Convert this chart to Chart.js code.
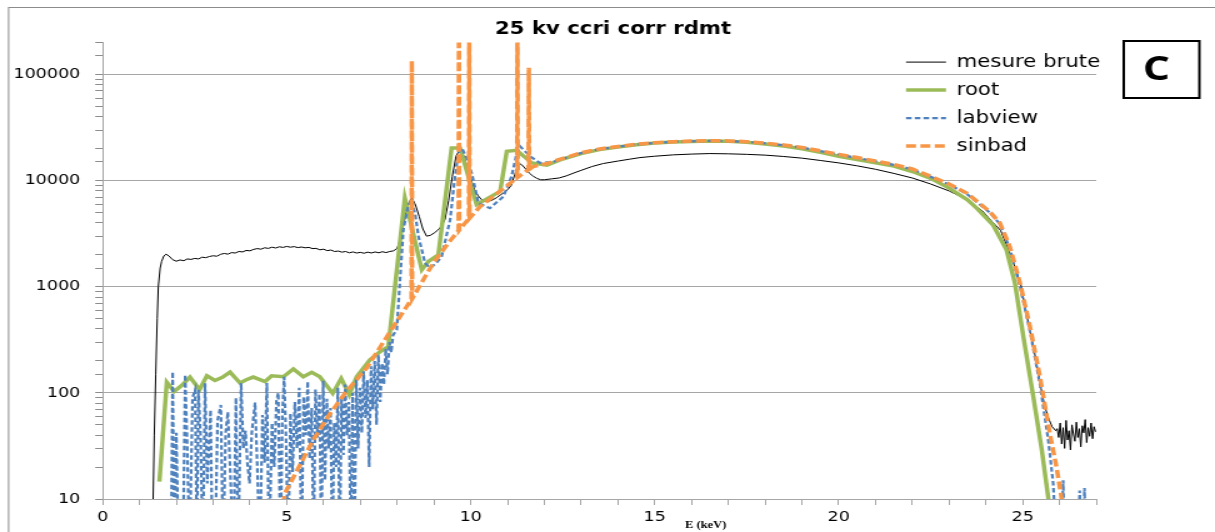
<!DOCTYPE html>
<html>
<head>
<meta charset="utf-8">
<title>25 kv ccri corr rdmt</title>
<script src="https://cdn.jsdelivr.net/npm/chart.js@4.4.1/dist/chart.umd.min.js"></script>
<style>
  html, body { margin: 0; padding: 0; background: #fff; overflow: hidden; }
</style>
</head>
<body>
<!-- the source picture is stretched sideways: draw 972 wide, show it 1215 wide -->
<canvas id="chart" width="972" height="532" style="display:block;width:1215px;height:532px"></canvas>
<script>
// energies in keV and counts

const bruteE = [1.37, 1.40, 1.44, 1.48, 1.51, 1.56, 1.60, 1.66, 1.72, 1.80, 1.90, 2.00,
  2.1, 2.2, 2.3, 2.4, 2.5, 2.6, 2.7, 2.8, 2.9, 3.0,
  3.1, 3.2, 3.3, 3.4, 3.5, 3.6, 3.7, 3.8, 3.9, 4.0,
  4.1, 4.2, 4.3, 4.4, 4.5, 4.6, 4.7, 4.8, 4.9, 5.0,
  5.1, 5.2, 5.3, 5.4, 5.5, 5.6, 5.7, 5.8, 5.9, 6.0,
  6.1, 6.2, 6.3, 6.4, 6.5, 6.6, 6.7, 6.8, 6.9, 7.0,
  7.1, 7.2, 7.3, 7.4, 7.5, 7.6, 7.7, 7.8, 7.9, 8.0,
  8.1, 8.2, 8.3, 8.4, 8.5, 8.6, 8.7, 8.8, 8.9, 9.0,
  9.1, 9.2, 9.3, 9.4, 9.5, 9.6, 9.7, 9.8, 9.9, 10.0,
  10.1, 10.2, 10.3, 10.4, 10.5, 10.6, 10.7, 10.8, 10.9, 11.0,
  11.1, 11.2, 11.3, 11.4, 11.5, 11.6, 11.7, 11.8, 11.9, 12.0,
  12.2, 12.4, 12.6, 12.8, 13.0, 13.3, 13.6, 14.0, 14.3, 14.6,
  15.0, 15.5, 16.0, 16.5, 17.0, 17.5, 18.0, 18.5, 19.0, 19.5,
  20.0, 20.5, 21.0, 21.5, 22.0, 22.5, 23.0, 23.5, 23.9, 24.2,
  24.4, 24.6, 24.8, 24.95, 25.1, 25.2, 25.3, 25.4, 25.5, 25.6,
  25.7, 25.8, 25.9,
  25.94, 25.98, 26.02, 26.06, 26.10, 26.14, 26.18, 26.22, 26.26, 26.30,
  26.34, 26.38, 26.42, 26.46, 26.50, 26.54, 26.58, 26.62, 26.66, 26.70,
  26.74, 26.78, 26.82, 26.86, 26.90, 26.94, 26.98];
const bruteV = [10, 40, 150, 500, 1000, 1500, 1735, 1950, 2030, 1950, 1800, 1740,
  1790, 1760, 1830, 1810, 1850, 1830, 1900, 1880, 1930, 1960,
  1940, 2020, 2060, 2030, 2100, 2080, 2150, 2130, 2200, 2180,
  2250, 2290, 2260, 2330, 2300, 2360, 2320, 2380, 2350, 2400,
  2360, 2390, 2340, 2370, 2330, 2350, 2290, 2300, 2230, 2260,
  2190, 2220, 2150, 2170, 2120, 2150, 2090, 2130, 2080, 2110,
  2070, 2120, 2080, 2130, 2090, 2140, 2100, 2150, 2180, 2300,
  2900, 4200, 6000, 6900, 5900, 4600, 3500, 3000, 3050, 3200,
  3400, 3700, 4300, 6500, 11000, 17000, 19600, 17500, 13500, 10500,
  8300, 7200, 6600, 6350, 6400, 6600, 6900, 7300, 7700, 8200,
  9000, 11500, 14700, 14000, 12800, 11700, 11000, 10500, 10200, 10200,
  10400, 10600, 11100, 11800, 12500, 13600, 14500, 15300, 15900, 16500,
  17000, 17500, 17800, 18000, 17900, 17700, 17400, 16900, 16300, 15500,
  14700, 13800, 12800, 11700, 10600, 9300, 8000, 6600, 5200, 4000,
  3400, 2300, 1500, 1050, 560, 380, 265, 170, 110, 75,
  58, 48, 44,
  46, 38, 52, 33, 47, 30, 55, 36, 44, 29,
  50, 41, 35, 53, 38, 46, 31, 49, 42, 56,
  34, 47, 39, 52, 37, 48, 43];

const rootE = [1.54, 1.74, 1.94, 2.15, 2.37, 2.63, 2.83, 3.05, 3.25, 3.46,
  3.73, 3.90, 4.09, 4.41, 4.59, 4.91, 5.18, 5.45, 5.68, 5.90,
  6.25, 6.48, 6.70, 6.90, 7.26, 7.54, 7.76, 8.21, 8.67, 8.85,
  9.12, 9.48, 9.71, 10.16, 10.80, 10.98, 11.25, 11.66, 12.07, 12.5,
  13.0, 13.5, 14.0, 14.5, 15.0, 15.5, 16.0, 16.5, 17.0, 17.5,
  18.0, 18.5, 19.0, 19.5, 20.0, 20.5, 21.0, 21.5, 22.0, 22.5,
  23.0, 23.5, 23.75, 24.2, 24.56, 24.79, 25.02, 25.29, 25.52, 25.70,
  25.8];
const rootV = [14.6, 126, 103, 118, 141, 107, 145, 131, 140, 157,
  124, 133, 141, 128, 145, 142, 168, 142, 156, 142,
  99, 137, 96, 142, 205, 245, 273, 6870, 1445, 1735,
  2000, 20300, 20300, 5950, 7930, 18900, 19300, 14700, 14000, 16000,
  18000, 19600, 20800, 21800, 22600, 23100, 23400, 23600, 23500, 23000,
  22200, 21200, 20000, 18500, 17000, 15800, 14700, 13700, 12200, 10500,
  8500, 6600, 5500, 3800, 2230, 1080, 338, 92, 29, 10,
  5];

const labE = [1.85, 1.90, 1.95, 2.00, 2.06, 2.12, 2.18, 2.24, 2.30, 2.36,
  2.44, 2.51, 2.56, 2.60, 2.66, 2.72, 2.78, 2.84, 2.93, 2.98,
  3.05, 3.12, 3.21, 3.27, 3.34, 3.40, 3.46, 3.55, 3.62, 3.68,
  3.76, 3.82, 3.88, 3.93, 3.99, 4.05, 4.14, 4.20, 4.27, 4.34,
  4.40, 4.46, 4.52, 4.60, 4.66, 4.72, 4.77, 4.83, 4.88, 4.93,
  4.98, 5.04, 5.10, 5.16, 5.22, 5.28, 5.34, 5.40, 5.46, 5.52,
  5.57, 5.62, 5.68, 5.73, 5.78, 5.84, 5.89, 5.94, 5.99, 6.04,
  6.09, 6.14, 6.19, 6.24, 6.29, 6.34, 6.39, 6.44, 6.49, 6.54,
  6.59, 6.64, 6.69, 6.74, 6.79, 6.84, 6.89, 6.94, 6.99, 7.04,
  7.09, 7.14, 7.19, 7.24, 7.29, 7.34, 7.39, 7.44, 7.49, 7.54,
  7.59, 7.64, 7.69, 7.74, 7.79, 7.84, 7.89, 7.99, 8.17, 8.30,
  8.40, 8.50, 8.58, 8.76, 8.89, 9.05, 9.21, 9.44, 9.56, 9.66,
  9.76, 9.90, 10.03, 10.21, 10.52, 10.89, 11.11, 11.25, 11.34, 11.61,
  11.88, 12.24, 12.5, 13.0, 13.5, 14.0, 14.5, 15.0, 15.5, 16.0,
  16.5, 17.0, 17.5, 18.0, 18.5, 19.0, 19.5, 20.0, 20.5, 21.0,
  21.5, 22.0, 22.5, 23.0, 23.48, 24.11, 24.38, 24.65, 24.93, 25.2,
  25.47, 25.7, 25.83, 25.9, 26.05, 26.1, 26.15, 26.5, 26.55, 26.6,
  26.64, 26.68, 26.72];
const labV = [2, 158, 3, 42, 3, 3, 3, 148, 28, 3,
  90, 107, 3, 107, 38, 3, 123, 14, 69, 3,
  3, 55, 77, 3, 42, 66, 20, 3, 90, 3,
  124, 30, 44, 22, 14, 42, 81, 20, 3, 62,
  22, 124, 3, 52, 20, 84, 100, 3, 60, 142,
  38, 3, 64, 18, 82, 30, 112, 3, 92, 40,
  128, 24, 72, 3, 108, 38, 98, 3, 130, 15,
  88, 30, 72, 3, 52, 20, 112, 3, 92, 26,
  120, 40, 82, 3, 100, 3, 138, 30, 112, 42,
  160, 58, 132, 20, 178, 70, 200, 50, 228, 82,
  190, 120, 260, 150, 300, 240, 350, 392, 3450, 5800,
  6620, 4600, 2985, 1670, 1500, 1650, 1930, 4270, 10000, 18200,
  20300, 16000, 11700, 6150, 5500, 7100, 11000, 18000, 21100, 17000,
  14700, 15000, 16100, 18200, 19800, 20900, 21900, 22700, 23200, 23500,
  23700, 23600, 23200, 22500, 21600, 20500, 19000, 17600, 16400, 15200,
  14100, 12800, 10900, 9200, 7500, 5000, 3900, 2300, 1000, 380,
  120, 35, 14, 5, 3, 15, 3, 3, 12, 3,
  3, 12.7, 3];

const sinbadE = [4.90, 4.95, 5.72, 6.18, 6.62, 7.17, 7.72, 8.26, 8.39, 8.40,
  8.41, 8.60, 8.98, 9.40, 9.67, 9.68, 9.69, 9.95, 9.96, 9.97,
  10.25, 10.70, 11.07, 11.26, 11.27, 11.28, 11.57, 11.58, 11.59, 11.70,
  12.07, 12.5, 13.0, 13.5, 14.0, 14.5, 15.0, 15.5, 16.0, 16.5,
  17.0, 17.5, 18.0, 18.5, 19.0, 19.5, 20.0, 20.5, 21.0, 21.5,
  22.0, 22.5, 23.0, 23.48, 24.11, 24.38, 24.65, 24.93, 25.2, 25.47,
  25.74, 25.92, 26.06, 26.15];
const sinbadV = [9, 11.3, 36, 64, 103, 171, 338, 652, 760, 134000,
  770, 1000, 1670, 2600, 3400, 600000, 3420, 4400, 600000, 4420,
  5680, 7500, 9430, 10700, 600000, 10750, 12700, 115600, 12750, 13600,
  14500, 16200, 18300, 19900, 21000, 22000, 22800, 23300, 23600, 23800,
  23700, 23300, 22600, 21700, 20600, 19100, 17700, 16500, 15300, 14200,
  12900, 11000, 9300, 7650, 5100, 4000, 2400, 1080, 420, 142,
  41, 20, 10, 6];

const xLabels = [0, 5, 10, 15, 20, 25];
const yLabels = [10, 100, 1000, 10000, 100000];

const GRID = '#a6a6a6';
const TICK_FONT = { family: "'DejaVu Sans', sans-serif", size: 14 };

function points(e, v) {
  return e.map((x, i) => ({ x: x, y: v[i] }));
}
function decade(v) {
  return yLabels.find((t) => Math.abs(t - v) < t * 1e-6);
}

// legend samples should copy the line style, not the point style
function legendItems(chart) {
  const items = Chart.defaults.plugins.legend.labels.generateLabels(chart);
  items.forEach((it) => {
    const ds = chart.data.datasets[it.datasetIndex];
    it.lineDash = ds.borderDash || [];
    it.lineWidth = ds.borderWidth;
    it.strokeStyle = ds.borderColor;
  });
  return items;
}

// frame, the "C" box and the small axis caption
const decor = {
  id: 'decor',
  afterLayout(chart) {
    // legend sits in the top right corner of the plot
    const lg = chart.legend;
    const area = chart.chartArea;
    lg.left = 724.8 - lg.options.labels.padding;
    lg.right = chart.width;
    lg.width = lg.right - lg.left;
    lg.top = area.top;
    lg.bottom = area.bottom;
    lg.height = lg.bottom - lg.top;
    // title is centred a bit right of the middle
    const tb = chart.titleBlock;
    tb.left = 0;
    tb.right = 980.8;
    tb.width = 980.8;
  },
  beforeDraw(chart) {
    const ctx = chart.ctx;
    ctx.save();
    ctx.strokeStyle = '#8c8c8c';
    ctx.lineWidth = 1;
    ctx.strokeRect(6.9, 7.5, 1200, 1200);
    ctx.restore();
  },
  afterDraw(chart) {
    const ctx = chart.ctx;
    ctx.save();
    ctx.strokeStyle = '#000';
    ctx.lineWidth = 2;
    ctx.strokeRect(899, 41, 60.5, 57);
    ctx.fillStyle = '#000';
    ctx.font = "bold 34px 'Open Sans'";
    ctx.textAlign = 'center';
    ctx.textBaseline = 'middle';
    ctx.fillText('C', 925, 70);
    ctx.font = "bold 10px 'Liberation Serif'";
    ctx.textAlign = 'left';
    ctx.fillText('E (keV)', 548, 525);
    ctx.restore();
  }
};

const lineBase = { pointRadius: 0, pointHoverRadius: 0, tension: 0, fill: false };

new Chart(document.getElementById('chart'), {
  type: 'line',
  data: {
    datasets: [
      Object.assign({}, lineBase, {
        label: 'mesure brute',
        data: points(bruteE, bruteV),
        borderColor: '#000000',
        backgroundColor: '#000000',
        borderWidth: 1,
        order: 4
      }),
      Object.assign({}, lineBase, {
        label: 'root',
        data: points(rootE, rootV),
        borderColor: '#9bbb59',
        backgroundColor: '#9bbb59',
        borderWidth: 3.5,
        order: 3
      }),
      Object.assign({}, lineBase, {
        label: 'labview',
        data: points(labE, labV),
        borderColor: '#4f81bd',
        backgroundColor: '#4f81bd',
        borderWidth: 2.2,
        borderDash: [4.5, 2.5],
        order: 2
      }),
      Object.assign({}, lineBase, {
        label: 'sinbad',
        data: points(sinbadE, sinbadV),
        borderColor: '#f79646',
        backgroundColor: '#f79646',
        borderWidth: 3.5,
        borderDash: [8, 3.5],
        order: 1
      })
    ]
  },
  options: {
    responsive: false,
    animation: false,
    devicePixelRatio: 1,
    layout: { padding: { left: 0, right: 95, top: 0, bottom: 0 } },
    scales: {
      x: {
        type: 'linear',
        min: 0,
        max: 27,
        afterFit: (s) => { s.height = 33; },
        border: { color: GRID },
        grid: { drawOnChartArea: false, color: GRID, tickLength: 6 },
        ticks: {
          stepSize: 1,
          autoSkip: false,
          maxRotation: 0,
          padding: 4,
          color: '#000',
          font: TICK_FONT,
          callback: (v) => (xLabels.includes(v) ? String(v) : '')
        }
      },
      y: {
        type: 'logarithmic',
        min: 10,
        max: 200000,
        afterFit: (s) => { s.width = 82.2; },
        border: { color: GRID },
        grid: {
          color: (c) => (c.tick && decade(c.tick.value) ? GRID : 'rgba(0,0,0,0)'),
          tickColor: '#8c8c8c',
          tickLength: 6
        },
        ticks: {
          autoSkip: false,
          padding: 12,
          color: '#000',
          font: TICK_FONT,
          callback: (v) => {
            const d = decade(v);
            return d ? String(d) : '';
          }
        }
      }
    },
    plugins: {
      title: {
        display: true,
        text: '25 kv ccri corr rdmt',
        color: '#000',
        font: { family: "'DejaVu Sans', sans-serif", size: 17, weight: 'bold' },
        padding: { top: 19, bottom: 3.2 }
      },
      legend: {
        position: 'chartArea',
        align: 'start',
        labels: {
          usePointStyle: true,
          pointStyle: 'line',
          pointStyleWidth: 32,
          padding: 11,
          color: '#000',
          font: { family: "'DejaVu Sans', sans-serif", size: 17 },
          generateLabels: legendItems,
          sort: (a, b) => a.datasetIndex - b.datasetIndex
        }
      },
      tooltip: { enabled: false }
    }
  },
  plugins: [decor]
});
</script>
</body>
</html>
